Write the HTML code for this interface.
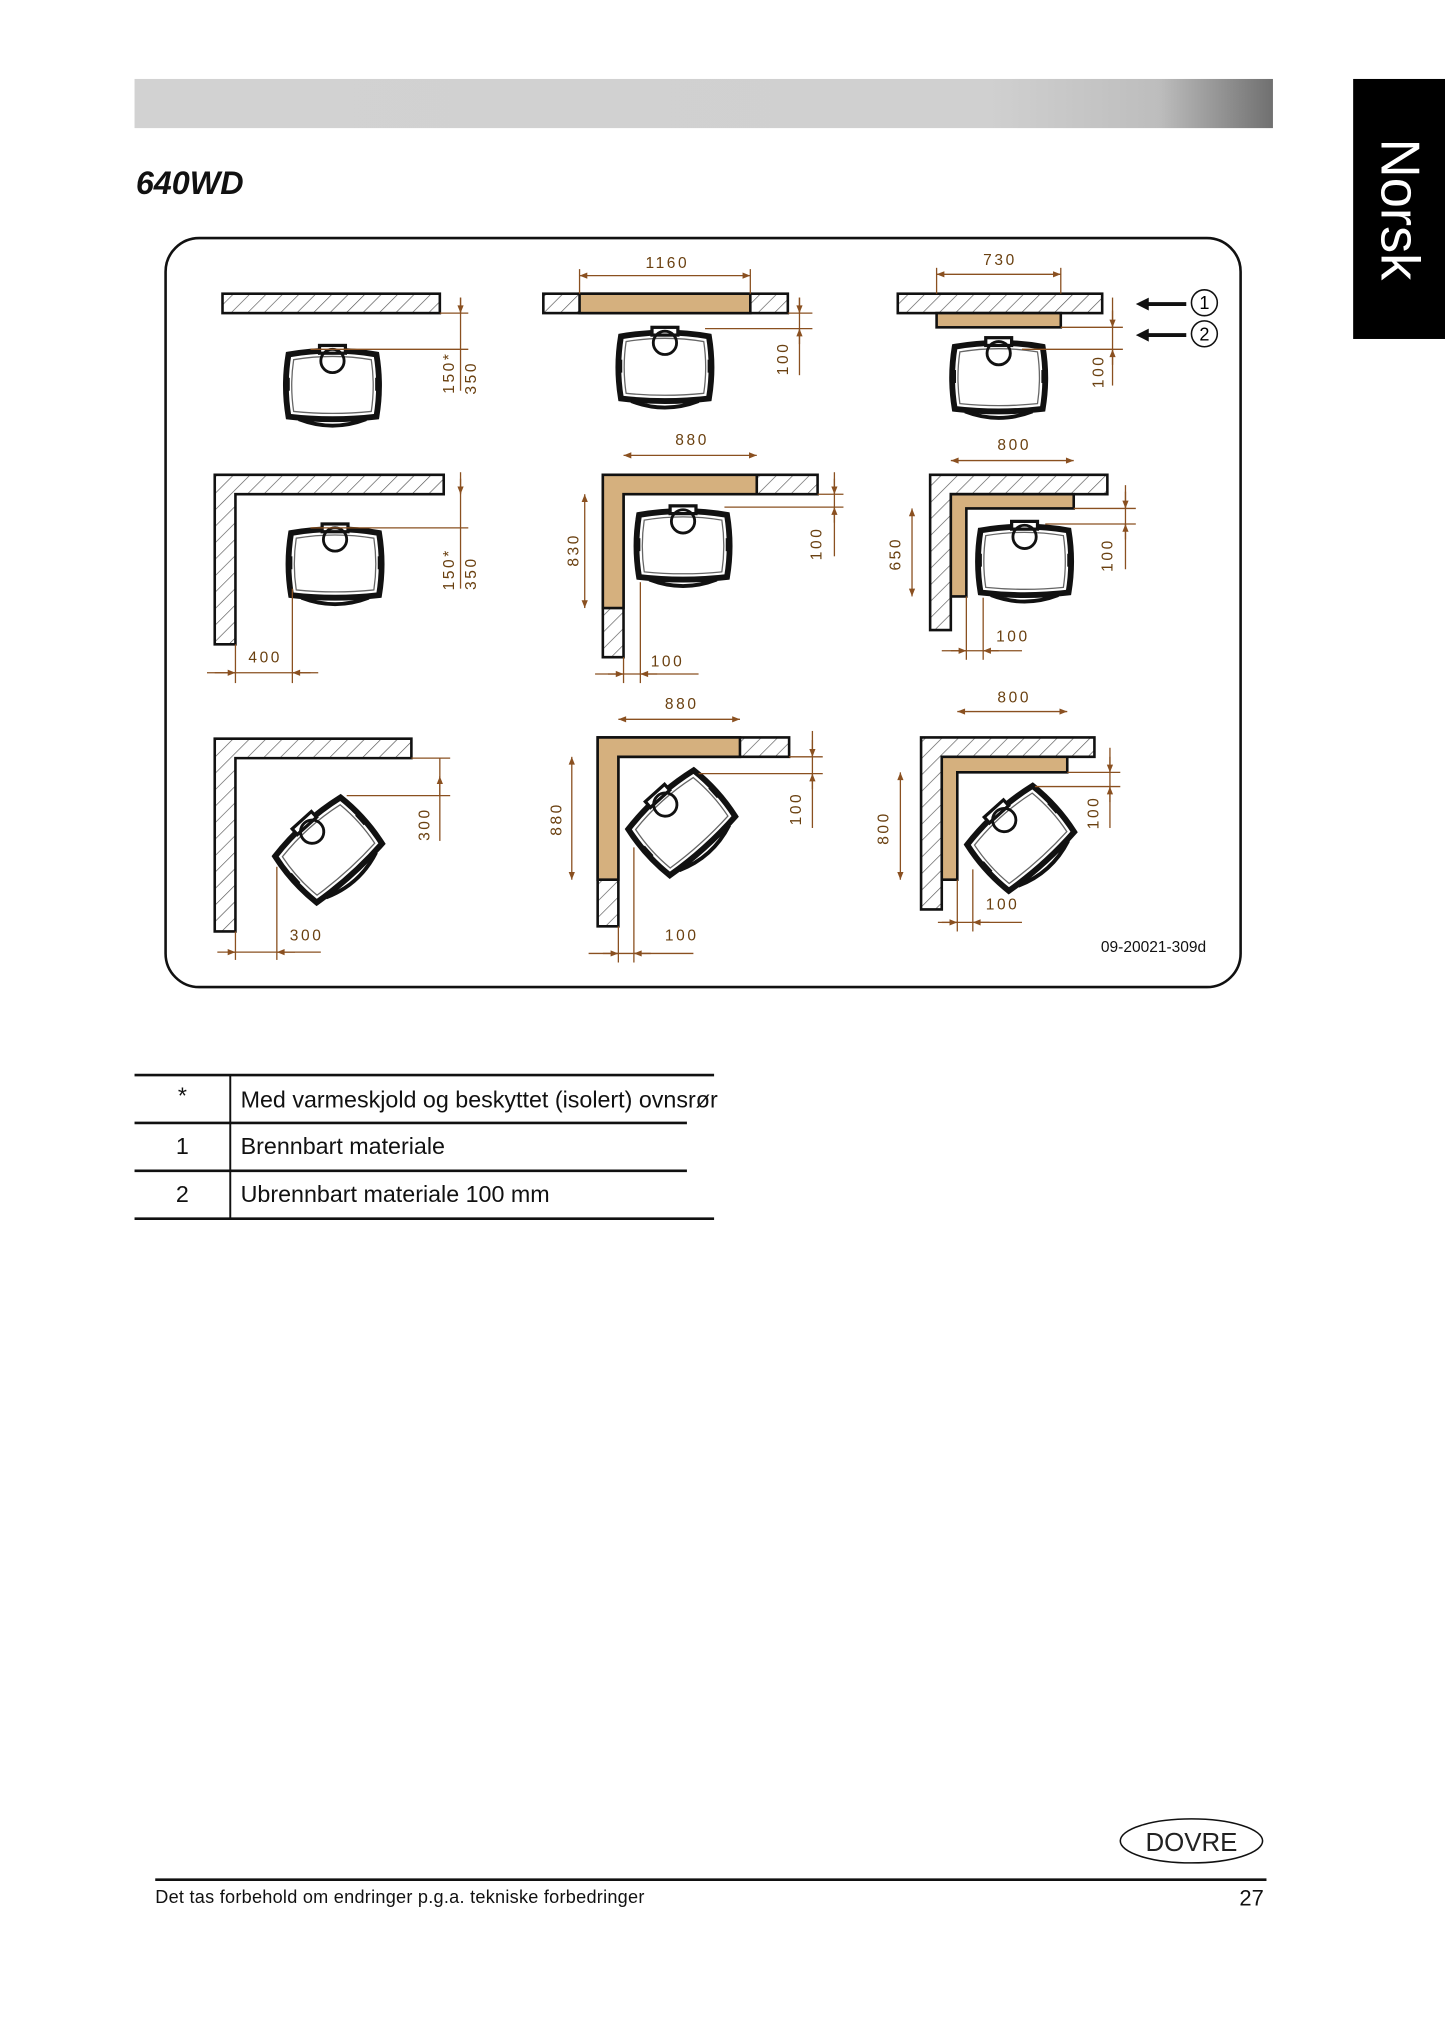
<!DOCTYPE html>
<html><head><meta charset="utf-8"><style>
html,body{margin:0;padding:0;background:#fff;}
svg{display:block;}
</style></head><body>
<svg width="1445" height="2028" viewBox="0 0 1117 1567.6" xmlns="http://www.w3.org/2000/svg" font-family="Liberation Sans, sans-serif">
<defs>
<pattern id="h" width="9" height="9" patternUnits="userSpaceOnUse" patternTransform="rotate(45)">
<rect width="9" height="9" fill="#fff"/><line x1="0" y1="0" x2="0" y2="9" stroke="#555" stroke-width="1"/>
</pattern>
<linearGradient id="g" x1="0" x2="1">
<stop offset="0" stop-color="#d2d2d2"/><stop offset="0.75" stop-color="#d0d0d0"/><stop offset="0.9" stop-color="#bdbdbd"/><stop offset="1" stop-color="#707070"/>
</linearGradient>
<g id="st">
<path d="M-34,-24 Q0,-30 34,-24 Q38,0 34,24 Q0,28 -34,24 Q-38,0 -34,-24 Z" fill="#fff" stroke="#111" stroke-width="4.5"/>
<path d="M-30,-20 Q0,-25 30,-20 Q33,0 30,20 Q0,23 -30,20 Q-33,0 -30,-20 Z" fill="none" stroke="#666" stroke-width="1"/>
<rect x="-10" y="-31" width="20" height="6" fill="#fff" stroke="#111" stroke-width="2.5"/>
<circle cx="0" cy="-19" r="9" fill="none" stroke="#111" stroke-width="2.2"/>
<path d="M-26,26 Q0,36 26,26" fill="none" stroke="#111" stroke-width="3"/>
<rect x="-37" y="-6" width="4" height="10" fill="#111"/><rect x="33" y="-6" width="4" height="10" fill="#111"/>
</g>
<marker id="a" viewBox="0 0 10 10" refX="10" refY="5" markerWidth="8" markerHeight="6" orient="auto-start-reverse">
<path d="M0,1 L10,5 L0,9 Z" fill="#8a5020"/></marker>
</defs>

<rect x="104" y="61" width="880" height="38" fill="url(#g)"/>
<rect x="1046" y="61" width="71" height="201" fill="#000"/>
<text x="0" y="0" transform="translate(1068,107) rotate(90)" fill="#fff" font-size="42">Norsk</text>
<text x="105" y="150" font-size="25" font-weight="bold" font-style="italic" fill="#111">640WD</text>

<rect x="128" y="184" width="831" height="579" rx="26" fill="none" stroke="#111" stroke-width="2"/>

<g stroke="#111" stroke-width="2">
<rect x="172" y="227" width="168" height="15" fill="url(#h)"/>
<rect x="420" y="227" width="189" height="15" fill="url(#h)"/>
<rect x="448" y="227" width="132" height="15" fill="#d5b07e"/>
<rect x="694" y="227" width="158" height="15" fill="url(#h)"/>
<rect x="724" y="242" width="96" height="11" fill="#d5b07e"/>
<path d="M166,367 H343 V382 H182 V498 H166 Z" fill="url(#h)"/>
<path d="M466,367 H632 V382 H482 V508 H466 Z" fill="url(#h)"/>
<path d="M466,367 H585 V382 H482 V470 H466 Z" fill="#d5b07e"/>
<path d="M719,367 H856 V382 H735 V487 H719 Z" fill="url(#h)"/>
<path d="M735,382 H830 V393 H747 V461 H735 Z" fill="#d5b07e"/>
<path d="M166,571 H318 V586 H182 V720 H166 Z" fill="url(#h)"/>
<path d="M462,570 H610 V585 H478 V716 H462 Z" fill="url(#h)"/>
<path d="M462,570 H572 V585 H478 V680 H462 Z" fill="#d5b07e"/>
<path d="M712,570 H846 V585 H728 V703 H712 Z" fill="url(#h)"/>
<path d="M728,585 H825 V597 H740 V680 H728 Z" fill="#d5b07e"/>
</g>

<use href="#st" transform="translate(257,298)"/>
<use href="#st" transform="translate(514,284)"/>
<use href="#st" transform="translate(772,292)"/>
<use href="#st" transform="translate(259,436)"/>
<use href="#st" transform="translate(528,422)"/>
<use href="#st" transform="translate(792,434)"/>
<use href="#st" transform="translate(254,657) rotate(-42)"/>
<use href="#st" transform="translate(527,636) rotate(-42)"/>
<use href="#st" transform="translate(789,648) rotate(-42)"/>

<g stroke="#8a5020" stroke-width="1" fill="none">
<line x1="448" y1="213" x2="580" y2="213" marker-start="url(#a)" marker-end="url(#a)"/>
<line x1="448" y1="208" x2="448" y2="227"/><line x1="580" y1="208" x2="580" y2="227"/>
<line x1="724" y1="212" x2="820" y2="212" marker-start="url(#a)" marker-end="url(#a)"/>
<line x1="724" y1="207" x2="724" y2="227"/><line x1="820" y1="207" x2="820" y2="227"/>
<line x1="482" y1="352" x2="585" y2="352" marker-start="url(#a)" marker-end="url(#a)"/>
<line x1="735" y1="356" x2="830" y2="356" marker-start="url(#a)" marker-end="url(#a)"/>
<line x1="478" y1="556" x2="572" y2="556" marker-start="url(#a)" marker-end="url(#a)"/>
<line x1="740" y1="550" x2="825" y2="550" marker-start="url(#a)" marker-end="url(#a)"/>
<line x1="452" y1="382" x2="452" y2="470" marker-start="url(#a)" marker-end="url(#a)"/>
<line x1="705" y1="393" x2="705" y2="461" marker-start="url(#a)" marker-end="url(#a)"/>
<line x1="442" y1="585" x2="442" y2="680" marker-start="url(#a)" marker-end="url(#a)"/>
<line x1="696" y1="597" x2="696" y2="680" marker-start="url(#a)" marker-end="url(#a)"/>
<line x1="356" y1="230" x2="356" y2="302"/><line x1="356" y1="230" x2="356" y2="242" marker-end="url(#a)"/>
<line x1="240" y1="270" x2="362" y2="270"/><line x1="340" y1="242" x2="362" y2="242"/>
<line x1="618" y1="230" x2="618" y2="290"/><line x1="618" y1="230" x2="618" y2="242" marker-end="url(#a)"/><line x1="618" y1="266" x2="618" y2="254" marker-end="url(#a)"/>
<line x1="609" y1="242" x2="628" y2="242"/><line x1="545" y1="254" x2="628" y2="254"/>
<line x1="860" y1="230" x2="860" y2="298"/><line x1="860" y1="240" x2="860" y2="253" marker-end="url(#a)"/><line x1="860" y1="282" x2="860" y2="270" marker-end="url(#a)"/>
<line x1="820" y1="253" x2="868" y2="253"/><line x1="790" y1="270" x2="868" y2="270"/>
<line x1="356" y1="365" x2="356" y2="455"/><line x1="356" y1="370" x2="356" y2="382" marker-end="url(#a)"/><line x1="240" y1="408" x2="362" y2="408"/>
<line x1="645" y1="365" x2="645" y2="430"/><line x1="645" y1="370" x2="645" y2="382" marker-end="url(#a)"/><line x1="645" y1="404" x2="645" y2="392" marker-end="url(#a)"/><line x1="560" y1="392" x2="652" y2="392"/><line x1="632" y1="382" x2="652" y2="382"/>
<line x1="870" y1="375" x2="870" y2="440"/><line x1="870" y1="380" x2="870" y2="393" marker-end="url(#a)"/><line x1="870" y1="417" x2="870" y2="405" marker-end="url(#a)"/><line x1="808" y1="405" x2="878" y2="405"/><line x1="830" y1="393" x2="878" y2="393"/>
<line x1="340" y1="586" x2="340" y2="650"/><line x1="340" y1="600" x2="340" y2="615" marker-start="url(#a)"/><line x1="318" y1="586" x2="348" y2="586"/><line x1="268" y1="615" x2="348" y2="615"/>
<line x1="628" y1="565" x2="628" y2="640"/><line x1="628" y1="572" x2="628" y2="585" marker-end="url(#a)"/><line x1="628" y1="610" x2="628" y2="598" marker-end="url(#a)"/><line x1="540" y1="598" x2="636" y2="598"/><line x1="610" y1="585" x2="636" y2="585"/>
<line x1="858" y1="578" x2="858" y2="640"/><line x1="858" y1="585" x2="858" y2="597" marker-end="url(#a)"/><line x1="858" y1="620" x2="858" y2="608" marker-end="url(#a)"/><line x1="825" y1="597" x2="866" y2="597"/><line x1="800" y1="608" x2="866" y2="608"/>
<line x1="160" y1="520" x2="246" y2="520"/><line x1="166" y1="520" x2="182" y2="520" marker-end="url(#a)"/><line x1="240" y1="520" x2="226" y2="520" marker-end="url(#a)"/><line x1="182" y1="498" x2="182" y2="528"/><line x1="226" y1="455" x2="226" y2="528"/>
<line x1="460" y1="521" x2="540" y2="521"/><line x1="470" y1="521" x2="482" y2="521" marker-end="url(#a)"/><line x1="508" y1="521" x2="495" y2="521" marker-end="url(#a)"/><line x1="482" y1="508" x2="482" y2="528"/><line x1="495" y1="450" x2="495" y2="528"/>
<line x1="728" y1="503" x2="790" y2="503"/><line x1="735" y1="503" x2="747" y2="503" marker-end="url(#a)"/><line x1="772" y1="503" x2="760" y2="503" marker-end="url(#a)"/><line x1="747" y1="461" x2="747" y2="510"/><line x1="760" y1="462" x2="760" y2="510"/>
<line x1="178" y1="736" x2="248" y2="736"/><line x1="168" y1="736" x2="182" y2="736" marker-end="url(#a)"/><line x1="228" y1="736" x2="214" y2="736" marker-end="url(#a)"/><line x1="182" y1="720" x2="182" y2="742"/><line x1="214" y1="670" x2="214" y2="742"/>
<line x1="455" y1="737" x2="536" y2="737"/><line x1="466" y1="737" x2="478" y2="737" marker-end="url(#a)"/><line x1="503" y1="737" x2="490" y2="737" marker-end="url(#a)"/><line x1="478" y1="716" x2="478" y2="744"/><line x1="490" y1="655" x2="490" y2="744"/>
<line x1="725" y1="713" x2="790" y2="713"/><line x1="728" y1="713" x2="740" y2="713" marker-end="url(#a)"/><line x1="765" y1="713" x2="752" y2="713" marker-end="url(#a)"/><line x1="740" y1="680" x2="740" y2="720"/><line x1="752" y1="672" x2="752" y2="720"/>
</g>

<g fill="#6a4010" font-size="12" letter-spacing="2">
<text x="499" y="207">1160</text><text x="760" y="205">730</text>
<text x="522" y="344">880</text><text x="771" y="348">800</text>
<text x="514" y="548">880</text><text x="771" y="543">800</text>
<text x="192" y="512">400</text><text x="503" y="515">100</text><text x="770" y="496">100</text>
<text x="224" y="727">300</text><text x="514" y="727">100</text><text x="762" y="703">100</text>
<g text-anchor="middle">
<text transform="translate(351,288) rotate(-90)">150*</text><text transform="translate(368,292) rotate(-90)">350</text>
<text transform="translate(351,440) rotate(-90)">150*</text><text transform="translate(368,443) rotate(-90)">350</text>
<text transform="translate(609,277) rotate(-90)">100</text><text transform="translate(853,287) rotate(-90)">100</text>
<text transform="translate(635,420) rotate(-90)">100</text><text transform="translate(860,429) rotate(-90)">100</text>
<text transform="translate(619,625) rotate(-90)">100</text><text transform="translate(849,628) rotate(-90)">100</text>
<text transform="translate(332,637) rotate(-90)">300</text>
<text transform="translate(447,425) rotate(-90)">830</text><text transform="translate(696,428) rotate(-90)">650</text>
<text transform="translate(434,633) rotate(-90)">880</text><text transform="translate(687,640) rotate(-90)">800</text>
</g></g>

<g stroke="#111" stroke-width="3"><line x1="884" y1="235" x2="917" y2="235"/><line x1="884" y1="259" x2="917" y2="259"/></g>
<path d="M878,235 L888,230 L888,240 Z M878,259 L888,254 L888,264 Z" fill="#111"/>
<circle cx="931" cy="234" r="10" fill="#fff" stroke="#111" stroke-width="1.2"/><circle cx="931" cy="258" r="10" fill="#fff" stroke="#111" stroke-width="1.2"/>
<text x="931" y="239" font-size="14" text-anchor="middle">1</text><text x="931" y="263" font-size="14" text-anchor="middle">2</text>
<text x="851" y="736" font-size="12" fill="#111">09-20021-309d</text>

<g stroke="#111" stroke-width="2">
<line x1="104" y1="831" x2="552" y2="831"/><line x1="104" y1="868" x2="531" y2="868"/>
<line x1="104" y1="905" x2="531" y2="905"/><line x1="104" y1="942" x2="552" y2="942"/>
<line x1="178" y1="831" x2="178" y2="942" stroke-width="1.5"/>
</g>
<g font-size="18" fill="#111">
<text x="141" y="853" text-anchor="middle">*</text><text x="186" y="856">Med varmeskjold og beskyttet (isolert) ovnsrør</text>
<text x="141" y="892" text-anchor="middle">1</text><text x="186" y="892">Brennbart materiale</text>
<text x="141" y="929" text-anchor="middle">2</text><text x="186" y="929">Ubrennbart materiale 100 mm</text>
</g>

<ellipse cx="921" cy="1423" rx="55" ry="17" fill="none" stroke="#111" stroke-width="1.2"/>
<text x="921" y="1431" font-size="20" text-anchor="middle" fill="#222">DOVRE</text>
<line x1="120" y1="1453" x2="979" y2="1453" stroke="#111" stroke-width="2"/>
<text x="120" y="1471" font-size="14" fill="#111" letter-spacing="0.2">Det tas forbehold om endringer p.g.a. tekniske forbedringer</text>
<text x="977" y="1473" font-size="17" text-anchor="end" fill="#111">27</text>
</svg>
</body></html>
